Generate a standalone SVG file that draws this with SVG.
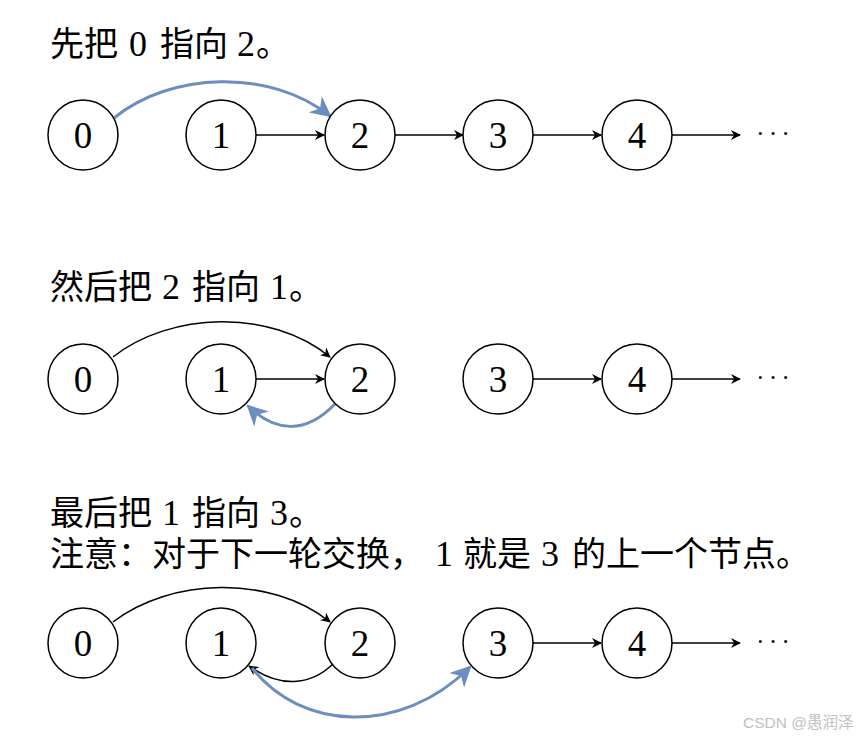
<svg xmlns="http://www.w3.org/2000/svg" width="860" height="739" viewBox="0 0 860 739">
<style>
.t{font-family:"Noto Sans CJK SC",sans-serif;font-size:34px;fill:#000}
.t .m{font-family:"Liberation Serif",serif;font-size:36px}
.n circle{fill:#fff;stroke:#000;stroke-width:1.5}
.n text{font-family:"Liberation Serif",serif;font-size:37px;text-anchor:middle}
.k{fill:none;stroke:#000;stroke-width:1.5}
.b{fill:none;stroke:#6C8EBF;stroke-width:3}
.d{font-family:"Liberation Serif",serif;font-size:26px;letter-spacing:4px}
.w{font-family:"Liberation Sans","Noto Sans CJK SC",sans-serif;font-size:15.5px;fill:#c0c0c0}
</style>
<defs>
<marker id="ak" viewBox="0 0 10 10" refX="9" refY="5" markerWidth="10" markerHeight="10" markerUnits="userSpaceOnUse" orient="auto"><path d="M0,0 L10,5 L0,10 L3,5 z" fill="#000"/></marker>
<marker id="ab" viewBox="0 0 10 10" refX="9" refY="5" markerWidth="7" markerHeight="7" orient="auto"><path d="M0,0 L10,5 L0,10 L3,5 z" fill="#6C8EBF"/></marker>
</defs>
<rect width="860" height="739" fill="#fff"/>
<text class="t" y="56"><tspan x="50">先把</tspan><tspan class="m" x="129">0</tspan><tspan x="160">指向</tspan><tspan class="m" x="237">2</tspan><tspan x="256">。</tspan></text>
<text class="t" y="299"><tspan x="50">然后把</tspan><tspan class="m" x="162">2</tspan><tspan x="192">指向</tspan><tspan class="m" x="270">1</tspan><tspan x="289">。</tspan></text>
<text class="t" y="525"><tspan x="50">最后把</tspan><tspan class="m" x="162">1</tspan><tspan x="192">指向</tspan><tspan class="m" x="270">3</tspan><tspan x="289">。</tspan></text>
<text class="t" y="566"><tspan x="50">注意</tspan><tspan x="118">：</tspan><tspan x="152">对于下一轮交换</tspan><tspan x="390">，</tspan><tspan class="m" x="435">1</tspan><tspan x="463">就是</tspan><tspan class="m" x="541">3</tspan><tspan x="572">的上一个节点</tspan><tspan x="776">。</tspan></text>
<g id="connectors">
<path class="b" d="M114,118 C170,72 270,68 330,116" marker-end="url(#ab)"/>
<path class="k" d="M256,135 H324" marker-end="url(#ak)"/>
<path class="k" d="M395,135 H463" marker-end="url(#ak)"/>
<path class="k" d="M533,135 H601" marker-end="url(#ak)"/>
<path class="k" d="M672,135 H740" marker-end="url(#ak)"/>
<path class="k" d="M113,357 C170,312 270,308 330,357" marker-end="url(#ak)"/>
<path class="k" d="M256,379 H324" marker-end="url(#ak)"/>
<path class="b" d="M335,404 C305,435 275,432 248,406" marker-end="url(#ab)"/>
<path class="k" d="M533,379 H601" marker-end="url(#ak)"/>
<path class="k" d="M672,379 H740" marker-end="url(#ak)"/>
<path class="k" d="M113,622 C170,578 270,574 330,622" marker-end="url(#ak)"/>
<path class="k" d="M333,664 C310,686 280,688 249,666" marker-end="url(#ak)"/>
<path class="b" d="M252,668 C300,730 400,737 470,667" marker-end="url(#ab)"/>
<path class="k" d="M533,643 H601" marker-end="url(#ak)"/>
<path class="k" d="M672,643 H740" marker-end="url(#ak)"/>
</g>
<g id="row1">
<g id="r1n0" class="n"><circle cx="83" cy="135" r="35"/><text x="83" y="148">0</text></g>
<g id="r1n1" class="n"><circle cx="221" cy="135" r="35"/><text x="221" y="148">1</text></g>
<g id="r1n2" class="n"><circle cx="360" cy="135" r="35"/><text x="360" y="148">2</text></g>
<g id="r1n3" class="n"><circle cx="498" cy="135" r="35"/><text x="498" y="148">3</text></g>
<g id="r1n4" class="n"><circle cx="637" cy="135" r="35"/><text x="637" y="148">4</text></g>
<text class="d" x="756" y="142">···</text>
</g>
<g id="row2">
<g id="r2n0" class="n"><circle cx="83" cy="379" r="35"/><text x="83" y="392">0</text></g>
<g id="r2n1" class="n"><circle cx="221" cy="379" r="35"/><text x="221" y="392">1</text></g>
<g id="r2n2" class="n"><circle cx="360" cy="379" r="35"/><text x="360" y="392">2</text></g>
<g id="r2n3" class="n"><circle cx="498" cy="379" r="35"/><text x="498" y="392">3</text></g>
<g id="r2n4" class="n"><circle cx="637" cy="379" r="35"/><text x="637" y="392">4</text></g>
<text class="d" x="756" y="386">···</text>
</g>
<g id="row3">
<g id="r3n0" class="n"><circle cx="83" cy="643" r="35"/><text x="83" y="656">0</text></g>
<g id="r3n1" class="n"><circle cx="221" cy="643" r="35"/><text x="221" y="656">1</text></g>
<g id="r3n2" class="n"><circle cx="360" cy="643" r="35"/><text x="360" y="656">2</text></g>
<g id="r3n3" class="n"><circle cx="498" cy="643" r="35"/><text x="498" y="656">3</text></g>
<g id="r3n4" class="n"><circle cx="637" cy="643" r="35"/><text x="637" y="656">4</text></g>
<text class="d" x="756" y="650">···</text>
</g>
<text class="w" x="743" y="728">CSDN @愚润泽</text>
</svg>
